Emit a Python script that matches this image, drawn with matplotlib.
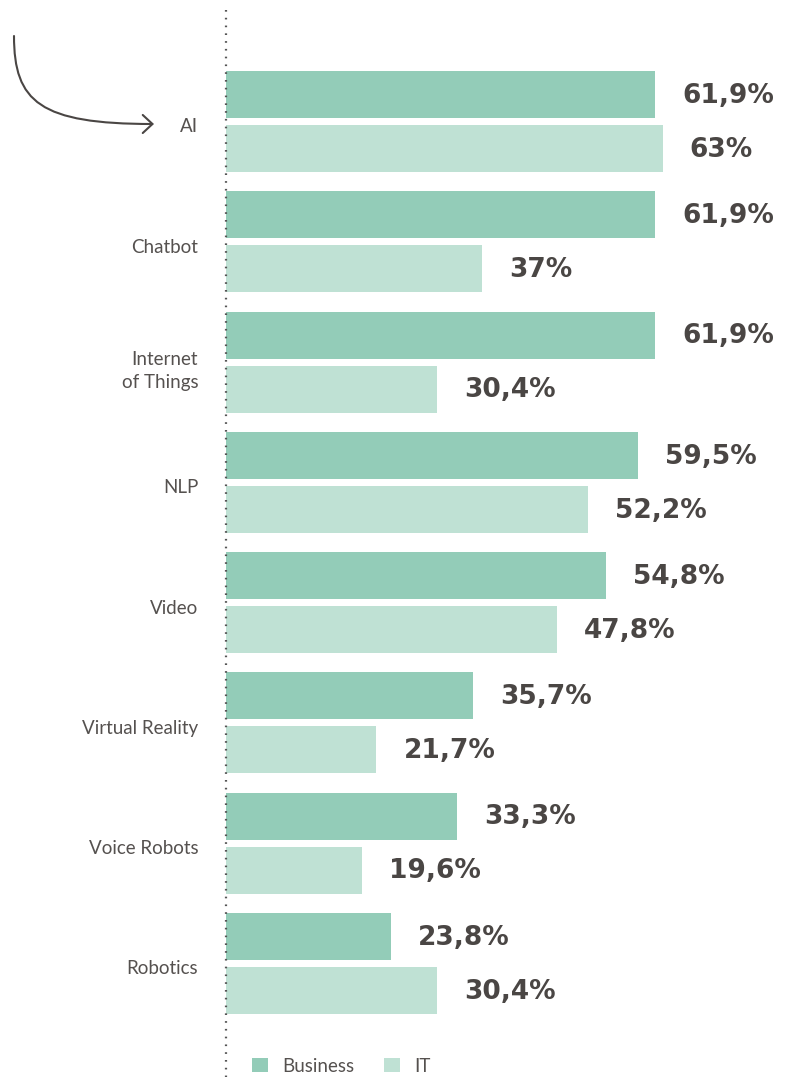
import matplotlib.pyplot as plt
from matplotlib.patches import Patch, FancyArrowPatch
from matplotlib.path import Path
from matplotlib.lines import Line2D
from matplotlib.transforms import ScaledTranslation
import numpy as np

categories = ["AI", "Chatbot", "Internet\nof Things", "NLP", "Video",
              "Virtual Reality", "Voice Robots", "Robotics"]
business = [61.9, 61.9, 61.9, 59.5, 54.8, 35.7, 33.3, 23.8]
it = [63.0, 37.0, 30.4, 52.2, 47.8, 21.7, 19.6, 30.4]
series_names = ["Business", "IT"]

c_business = "#93ccb8"
c_it = "#bfe1d4"
c_text = "#4a4644"
c_label = "#55514f"

W, H = 789, 1077
plt.rcParams['lines.scale_dashes'] = False

fig = plt.figure(figsize=(W / 100, H / 100), dpi=100)

# axes starts at the dotted line, 6.93 px per percent, ~120 px per group
px_per_pct = 6.93
group_px = 120.26
first_center = 121.5
ax = fig.add_axes([226 / W, 0, (W - 226) / W, 1])
ax.set_xlim(0, (W - 226) / px_per_pct)
ax.set_ylim((H - first_center) / group_px, -first_center / group_px)

y = np.arange(len(categories))
bar_h = 47 / group_px
off = 27 / group_px

bars_b = ax.barh(y - off, business, height=bar_h, color=c_business, linewidth=0)
bars_i = ax.barh(y + off, it, height=bar_h, color=c_it, linewidth=0)

def fmt(v):
    s = f"{v:.1f}".replace(".", ",")
    if s.endswith(",0"):
        s = s[:-2]
    return s + "%"

for bars, vals in [(bars_b, business), (bars_i, it)]:
    for b, v in zip(bars, vals):
        ax.annotate(fmt(v), (b.get_width(), b.get_y() + b.get_height() / 2),
                    xytext=(19.5, -1), textcoords="offset points",
                    ha="left", va="center", fontsize=19, fontweight="bold",
                    family="DejaVu Sans", color=c_text)

ax.set_yticks(y)
ax.set_yticklabels(categories, fontsize=13.5, color=c_label, family="Lato",
                   fontweight="normal", linespacing=1.45)
ax.tick_params(axis="y", length=0, pad=20)
# nudge category labels a few pixels down like the original
shift = ScaledTranslation(0, -4 / 100, fig.dpi_scale_trans)
for lab in ax.get_yticklabels():
    lab.set_transform(lab.get_transform() + shift)
ax.set_xticks([])
for s in ax.spines.values():
    s.set_visible(False)

# dotted baseline
fig.add_artist(Line2D([226 / W, 226 / W], [1 - 10 / H, 0], transform=fig.transFigure,
                      color="#555555", lw=1.6, linestyle=(0, (1.2, 4.4))))

# curved arrow pointing at AI
pts = [(14, 36), (14, 102), (40, 124), (154, 124)]
verts = [(px / W, 1 - py / H) for px, py in pts]
arrow_path = Path(verts, [Path.MOVETO, Path.CURVE4, Path.CURVE4, Path.CURVE4])
arrow = FancyArrowPatch(path=arrow_path, transform=fig.transFigure,
                        arrowstyle="->,head_length=7,head_width=6.5",
                        color="#4a4644", lw=1.5)
fig.add_artist(arrow)

handles = [Patch(facecolor=c_business, edgecolor="none", label=series_names[0]),
           Patch(facecolor=c_it, edgecolor="none", label=series_names[1])]
leg = fig.legend(handles=handles, loc="center left", ncol=2,
                 bbox_to_anchor=(252 / W, 1 - 1066 / H), frameon=False,
                 borderpad=0, borderaxespad=0, handlelength=0.85, handleheight=0.85,
                 handletextpad=0.75, columnspacing=1.6,
                 prop={"family": "Lato", "size": 13.5, "weight": "normal"})
for t in leg.get_texts():
    t.set_color(c_label)

fig.savefig("out.png", dpi=100)
